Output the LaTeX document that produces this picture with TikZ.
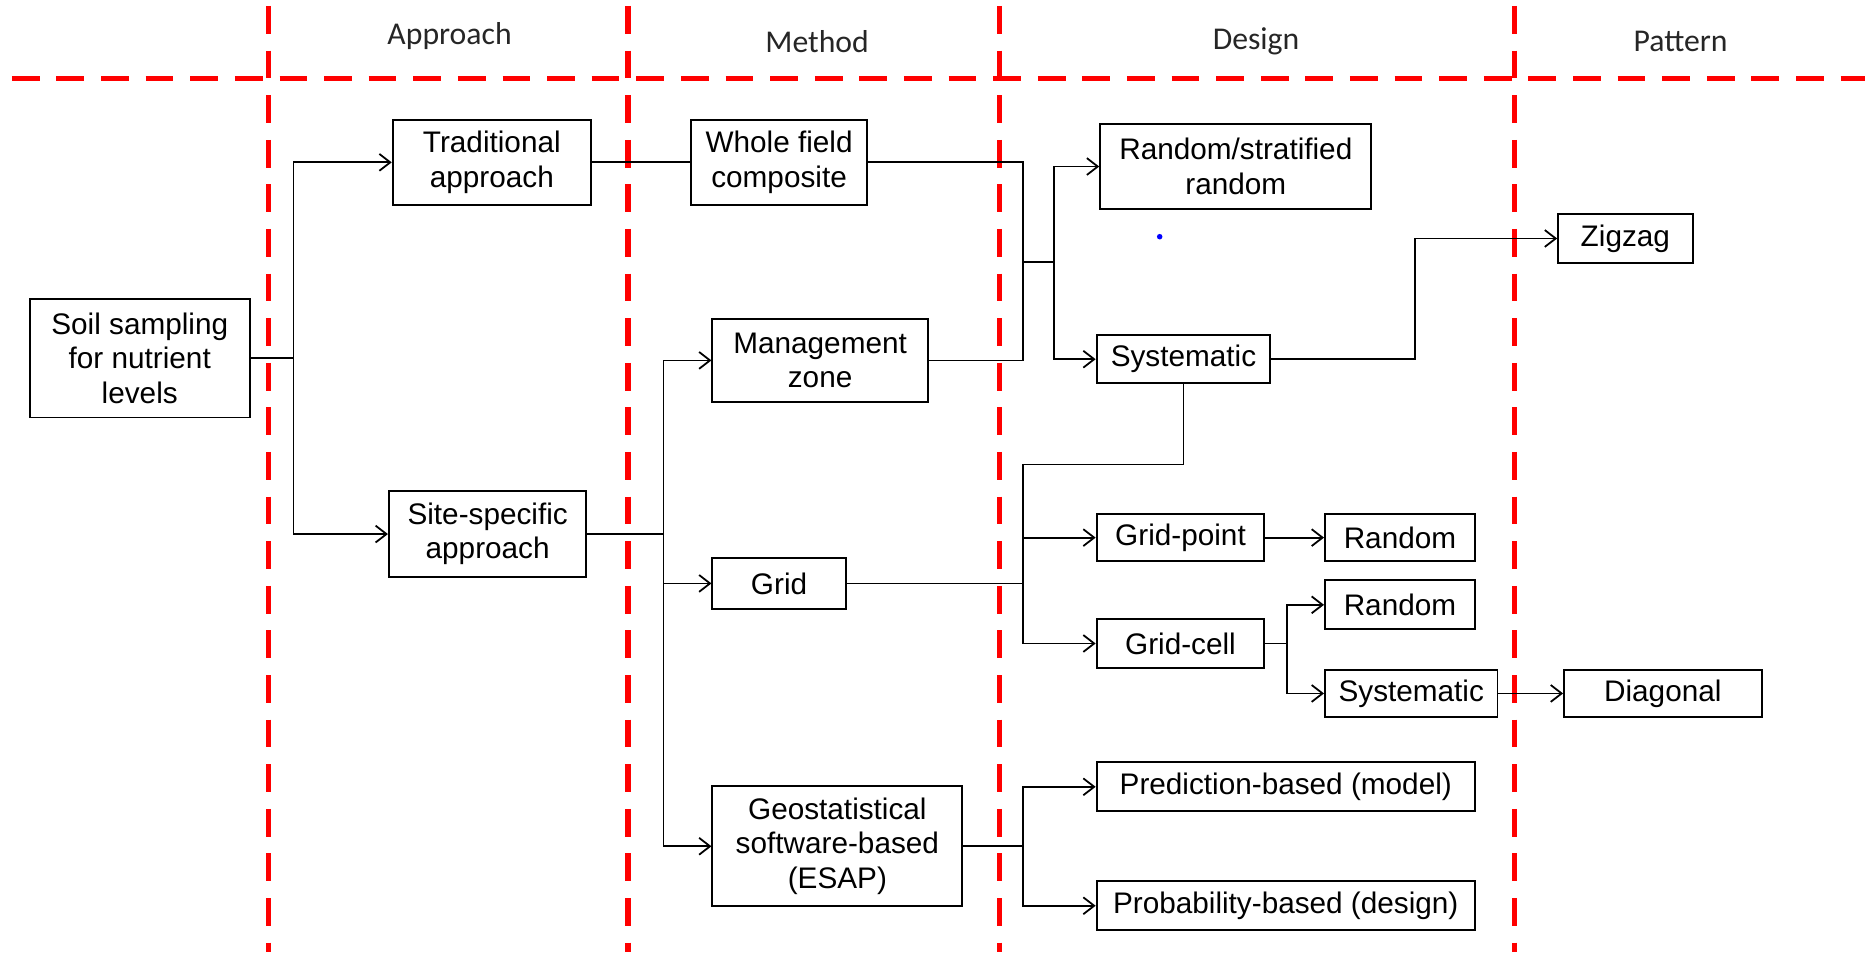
\documentclass[tikz,border=0pt]{standalone}
\usepackage{fontspec}
\setmainfont{Liberation Sans}
\newfontfamily\headfont{Carlito}
\usetikzlibrary{arrows.meta}

\begin{document}
\begin{tikzpicture}[x=0.6pt,y=-0.6pt,
  box/.style={draw=black,line width=1pt,inner sep=0pt,align=center,
    font=\fontsize{15}{17.4}\selectfont},
  link/.style={line width=0.9pt},
  sep/.style={red,line width=2.6pt,dash pattern=on 14pt off 8.5pt},
  head/.style={font=\headfont\fontsize{16}{19}\selectfont,text=black!85},
  >={Straight Barb[length=5.5pt,width=8.5pt]}]
\useasboundingbox (0,0) rectangle (1568,802);

% column separators
\draw[sep] (10,66) -- (1568,66);
\draw[sep] (226,5) -- (226,800);
\draw[sep] (528,5) -- (528,800);
\draw[sep] (840,5) -- (840,800);
\draw[sep] (1273,5) -- (1273,800);

\node[head] (hApproach) at (378,30) {Approach};
\node[head] (hMethod) at (687,35) {Method};
\node[head] (hDesign) at (1056,35) {Design};
\node[head] (hPattern) at (1413,35) {Pattern};

% boxes
\node[box,minimum width=111pt,minimum height=60pt] (soil) at (117.5,301) {Soil sampling\\for nutrient\\levels};
\node[box,minimum width=100pt,minimum height=42.6pt] (trad) at (413.5,136.5) {Traditional\\approach};
\node[box,minimum width=99.6pt,minimum height=43.2pt] (site) at (410,449) {Site-specific\\approach};
\node[box,minimum width=88.8pt,minimum height=42.6pt] (whole) at (655,136.5) {Whole field\\composite};
\node[box,minimum width=108.6pt,minimum height=42pt] (mgmt) at (689.5,303) {Management\\zone};
\node[box,minimum width=67.2pt,minimum height=25.8pt] (grid) at (655,490.5) {Grid};
\node[box,minimum width=126pt,minimum height=60.6pt] (geo) at (704,711.5) {Geostatistical\\software-based\\(ESAP)};
\node[box,minimum width=136.8pt,minimum height=43.2pt] (randstrat) at (1039,140) {Random/stratified\\random};
\node[box,minimum width=87.6pt,minimum height=24pt] (syst) at (995,302) {Systematic};
\node[box,minimum width=84.6pt,minimum height=24pt] (gpoint) at (992.5,452) {Grid-point};
\node[box,minimum width=84.6pt,minimum height=25.2pt] (gcell) at (992.5,541) {Grid-cell};
\node[box,minimum width=75.6pt,minimum height=24pt] (randA) at (1177,452) {Random};
\node[box,minimum width=75.6pt,minimum height=24.6pt] (randB) at (1177,508.5) {Random};
\node[box,minimum width=87pt,minimum height=24pt] (systB) at (1186.5,583) {Systematic};
\node[box,minimum width=99.6pt,minimum height=24pt] (diag) at (1398,583) {Diagonal};
\node[box,minimum width=67.8pt,minimum height=24.6pt] (zigzag) at (1366.5,200.5) {Zigzag};
\node[box,minimum width=190.8pt,minimum height=24.6pt] (pred) at (1081,661.5) {Prediction-based (model)};
\node[box,minimum width=190.8pt,minimum height=24.6pt] (prob) at (1081,761.5) {Probability-based (design)};

% connectors
\draw[link] (soil.east) -- ++(36,0) coordinate (busA);
\draw[link,->] (busA) |- (trad.west);
\draw[link,->] (busA) |- (site.west);

\draw[link] (trad.east) -- (whole.west);
\coordinate (join) at (860,220);
\draw[link] (whole.east) -| (join) |- (mgmt.east);
\draw[link] (join) -- ++(26,0) coordinate (busB);
\draw[link,->] (busB) |- (randstrat.west);
\draw[link,->] (busB) |- (syst.west);

\draw[link] (site.east) -- ++(64,0) coordinate (busC);
\draw[link,->] (busC) |- (mgmt.west);
\draw[link,->] (busC) |- (grid.west);
\draw[link,->] (busC) |- (geo.west);

\draw[link] (grid.east) -- (grid.east -| join) coordinate (busD);
\draw[link] (busD) -- ++(0,-100) -| (syst.south);
\draw[link,->] (busD) |- (gpoint.west);
\draw[link,->] (busD) |- (gcell.west);
\draw[link,->] (gpoint.east) -- (randA.west);

\draw[link] (gcell.east) -- ++(18,0) coordinate (busE);
\draw[link,->] (busE) |- (randB.west);
\draw[link,->] (busE) |- (systB.west);
\draw[link,->] (systB.east) -- (diag.west);

\draw[link,->] (syst.east) -- ++(121,0) |- (zigzag.west);

\draw[link] (geo.east) -- (geo.east -| join) coordinate (busF);
\draw[link,->] (busF) |- (pred.west);
\draw[link,->] (busF) |- (prob.west);

\fill[blue] (975,199) circle (1.4pt);
\end{tikzpicture}
\end{document}
